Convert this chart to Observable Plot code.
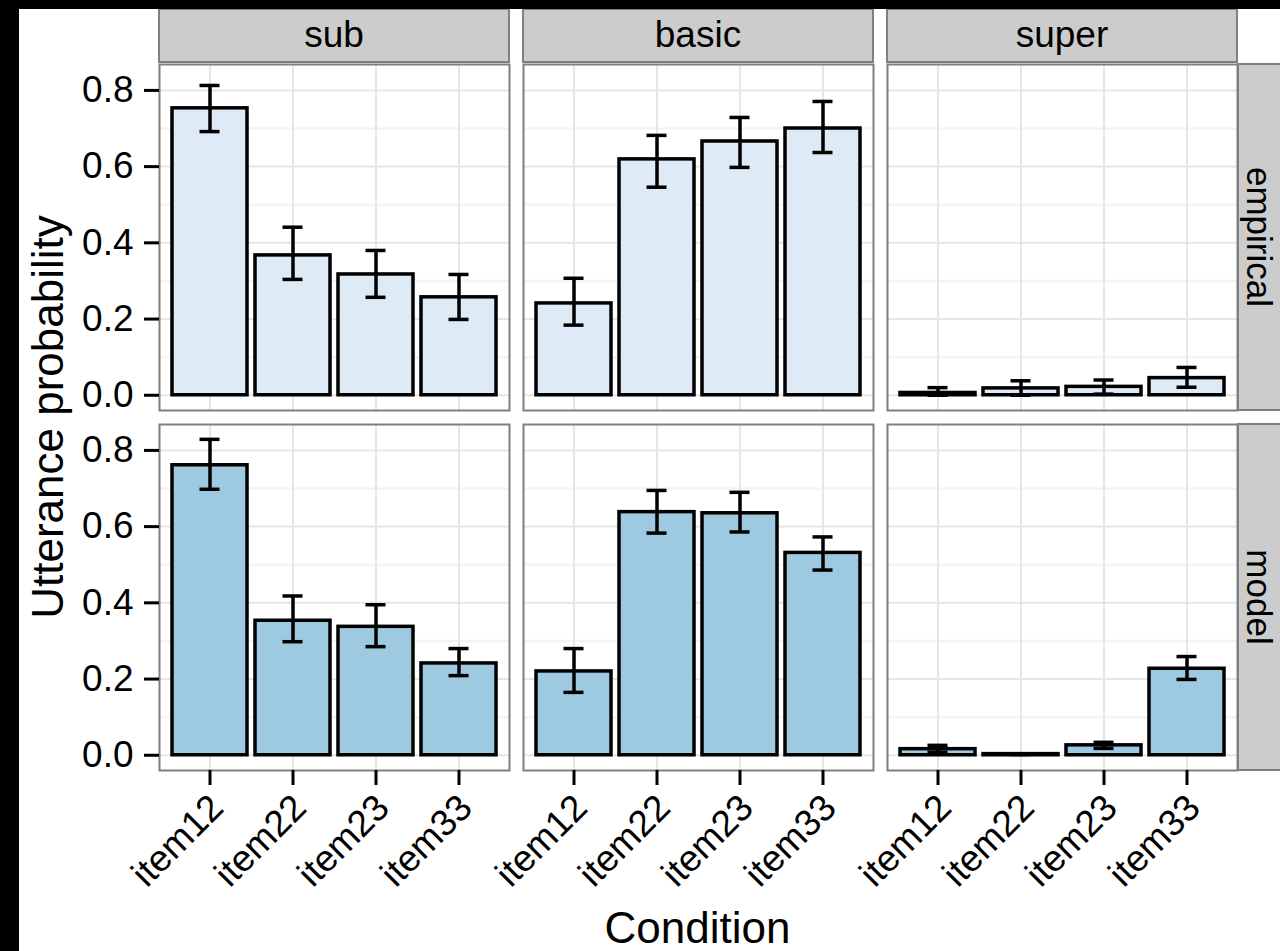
<!DOCTYPE html>
<html>
<head>
<meta charset="utf-8">
<script src="https://cdn.jsdelivr.net/npm/d3@7"></script>
<script src="https://cdn.jsdelivr.net/npm/@observablehq/plot@0.6"></script>
<style>
  html, body { margin: 0; padding: 0; background: #000; width: 1280px; height: 951px; overflow: hidden; }
  #chart { position: absolute; left: 19px; top: 9px; width: 1261px; height: 942px; background: #fff; }
</style>
</head>
<body>
<div id="chart"></div>
<script>
// Conditions (x), label levels (columns) and data sources (rows)
const items = ["item12", "item22", "item23", "item33"];
const levels = ["sub", "basic", "super"];
const sources = ["empirical", "model"];

// Values ordered sub → basic → super, each over item12, item22, item23, item33
const empiricalMean = [0.753, 0.367, 0.317, 0.257,  0.241, 0.619, 0.666, 0.700,  0.006, 0.018, 0.022, 0.045];
const empiricalLow  = [0.692, 0.304, 0.257, 0.199,  0.184, 0.546, 0.598, 0.637,  0.000, 0.000, 0.003, 0.021];
const empiricalHigh = [0.813, 0.441, 0.380, 0.317,  0.307, 0.682, 0.729, 0.771,  0.020, 0.038, 0.040, 0.073];

const modelMean = [0.761, 0.353, 0.337, 0.241,  0.220, 0.638, 0.635, 0.531,  0.016, 0.003, 0.026, 0.227];
const modelLow  = [0.698, 0.298, 0.285, 0.209,  0.165, 0.583, 0.586, 0.486,  0.008, 0.002, 0.018, 0.199];
const modelHigh = [0.829, 0.418, 0.395, 0.280,  0.280, 0.695, 0.690, 0.573,  0.026, 0.004, 0.034, 0.259];

// Axis breaks
const yBreaks = [0, 0.2, 0.4, 0.6, 0.8];
const yMinorBreaks = [0.1, 0.3, 0.5, 0.7];

const sourceFill = ["#DEEBF7", "#9ECAE1"];

// Long table for the bars and error bars
const rows = [];
sources.forEach((source, si) => {
  const [mean, low, high] = si === 0
    ? [empiricalMean, empiricalLow, empiricalHigh]
    : [modelMean, modelLow, modelHigh];
  levels.forEach((level, li) => {
    items.forEach((item, ii) => {
      const k = li * items.length + ii;
      rows.push({source, level, item, mean: mean[k], low: low[k], high: high[k]});
    });
  });
});

const font = "'Liberation Sans', Arial, Helvetica, sans-serif";
const tickFont = 37;
const rowStripFont = 35;
const titleFont = 44;
const facetChannels = {fx: "level", fy: "source", x: "item"};

const plot = Plot.plot({
  width: 1261,
  height: 942,
  marginLeft: 139,
  marginRight: 43,
  marginTop: 55,
  marginBottom: 181,
  style: {fontFamily: font, fontSize: `${tickFont}px`, background: "#fff", color: "#000"},
  fx: {domain: levels, paddingInner: 0.0398, paddingOuter: 0, axis: null},
  fy: {domain: sources, paddingInner: 0.0389, paddingOuter: 0, axis: null},
  x: {domain: items, paddingInner: 0.1, paddingOuter: 0.15},
  y: {domain: [-0.04, 0.868]},
  color: {domain: sources, range: sourceFill},
  marks: [
    // panel grid
    Plot.ruleY(yMinorBreaks, {stroke: "#F4F4F4", strokeWidth: 2.5}),
    Plot.ruleY(yBreaks, {stroke: "#E6E6E6", strokeWidth: 2}),
    Plot.ruleX(items, {stroke: "#E6E6E6", strokeWidth: 2}),
    // bars
    Plot.barY(rows, {...facetChannels, y: "mean", fill: "source", stroke: "#000", strokeWidth: 3.5}),
    // error bars
    Plot.ruleX(rows, {...facetChannels, y1: "low", y2: "high", stroke: "#000", strokeWidth: 3.5}),
    Plot.tickY(rows, {...facetChannels, y: "low", insetLeft: 27.5, insetRight: 27.5, stroke: "#000", strokeWidth: 3.5}),
    Plot.tickY(rows, {...facetChannels, y: "high", insetLeft: 27.5, insetRight: 27.5, stroke: "#000", strokeWidth: 3.5}),
    // panel border
    Plot.frame({stroke: "#7F7F7F", strokeWidth: 2}),
    // axes
    Plot.axisY({ticks: yBreaks, tickFormat: d3.format(".1f"), tickSize: 15, tickPadding: 11,
                strokeWidth: 3, label: null, fontSize: tickFont}),
    // x tick marks, then the slanted labels nudged right of them
    Plot.axisX({tickSize: 15, tickFormat: () => "", strokeWidth: 3, label: null}),
    Plot.axisX({tickSize: 0, tickRotate: -45, tickPadding: 31, dx: 7,
                label: null, fontSize: tickFont})
  ]
});

// Facet strips and axis titles, placed with the facet scales
const fx = plot.scale("fx");
const fy = plot.scale("fy");
const svg = d3.select(plot);
const strips = svg.append("g").attr("font-family", font);

levels.forEach(level => {
  const x0 = fx.apply(level);
  strips.append("rect")
    .attr("x", x0).attr("y", 0)
    .attr("width", fx.bandwidth).attr("height", 53)
    .attr("fill", "#CCCCCC").attr("stroke", "#7F7F7F").attr("stroke-width", 2);
  strips.append("text")
    .attr("x", x0 + fx.bandwidth / 2).attr("y", 38)
    .attr("text-anchor", "middle").attr("font-size", tickFont).attr("fill", "#000")
    .text(level);
});

const stripLeft = fx.apply(levels[levels.length - 1]) + fx.bandwidth + 1;
sources.forEach(source => {
  const y0 = fy.apply(source);
  strips.append("rect")
    .attr("x", stripLeft).attr("y", y0)
    .attr("width", 80).attr("height", fy.bandwidth)
    .attr("fill", "#CCCCCC").attr("stroke", "#7F7F7F").attr("stroke-width", 2);
  strips.append("text")
    .attr("transform", `translate(${stripLeft + 9},${y0 + fy.bandwidth / 2}) rotate(90)`)
    .attr("text-anchor", "middle").attr("font-size", rowStripFont).attr("fill", "#000")
    .text(source);
});

const fxRange = fx.range;
const fyRange = fy.range;
strips.append("text")
  .attr("x", (fxRange[0] + fxRange[1]) / 2).attr("y", 934)
  .attr("text-anchor", "middle").attr("font-size", titleFont).attr("fill", "#000")
  .text("Condition");
strips.append("text")
  .attr("transform", `translate(44,${(fyRange[0] + fyRange[1]) / 2}) rotate(-90)`)
  .attr("text-anchor", "middle").attr("font-size", titleFont).attr("fill", "#000")
  .text("Utterance probability");

document.getElementById("chart").appendChild(plot);
</script>
</body>
</html>
